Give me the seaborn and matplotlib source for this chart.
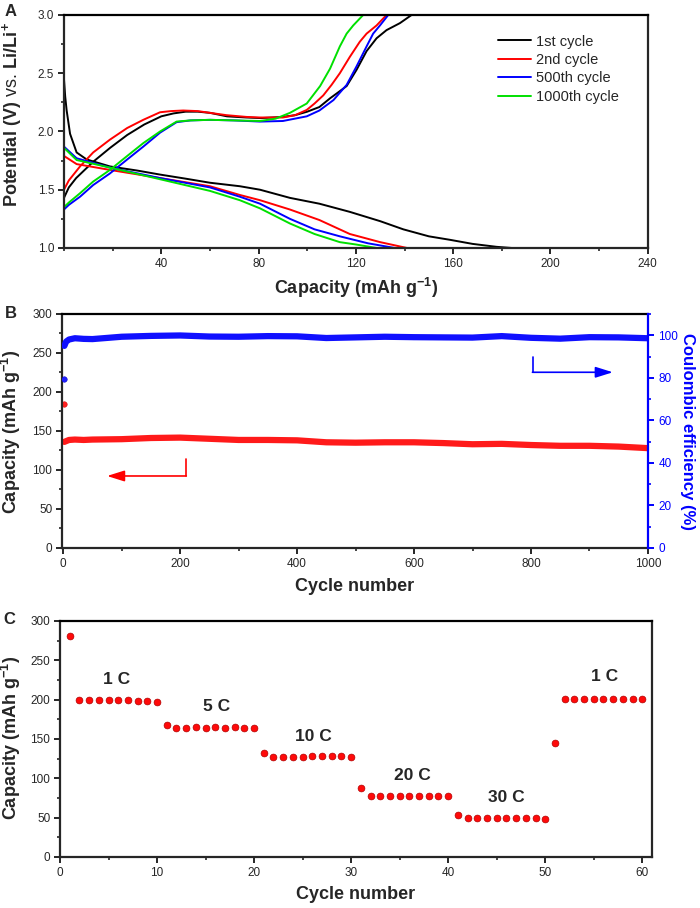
import matplotlib
matplotlib.use("Agg")
import matplotlib.pyplot as plt
import seaborn as sns
from matplotlib.ticker import MultipleLocator

# ---------------- Panel A: charge/discharge profiles ----------------
# charge curves (capacity mAh/g, potential V)
chg1_cap = [0, 2, 5, 12, 19, 26, 33, 40, 45, 50, 55, 60, 67, 75, 81, 90, 95, 100, 105, 109.4, 113, 116.2, 120.3, 124.4, 128.5, 132.6, 138.1, 142.9]
chg1_v = [1.43, 1.52, 1.60, 1.74, 1.86, 1.97, 2.06, 2.13, 2.155, 2.17, 2.17, 2.16, 2.13, 2.12, 2.115, 2.125, 2.14, 2.17, 2.21, 2.285, 2.34, 2.39, 2.53, 2.69, 2.80, 2.87, 2.93, 3.0]
chg2_cap = [0, 2, 6.6, 12, 18.9, 26, 32.6, 39.5, 44, 49, 55, 60, 66.8, 75, 80.6, 90, 95, 99.8, 103, 106.6, 110, 113.4, 117.5, 121.6, 124.4, 128.5, 132.6]
chg2_v = [1.50, 1.58, 1.70, 1.82, 1.93, 2.03, 2.10, 2.165, 2.175, 2.18, 2.175, 2.16, 2.14, 2.125, 2.12, 2.12, 2.14, 2.185, 2.24, 2.31, 2.40, 2.50, 2.64, 2.77, 2.84, 2.91, 3.0]
chg500_cap = [0, 2, 6.6, 12, 18.9, 26, 32.6, 39.5, 46.3, 52, 60, 70, 80.6, 90, 99.8, 105, 110.8, 116.2, 120.3, 124.4, 127.1, 129.9, 133.3]
chg500_v = [1.33, 1.37, 1.44, 1.54, 1.64, 1.76, 1.87, 1.99, 2.08, 2.095, 2.10, 2.095, 2.085, 2.09, 2.13, 2.18, 2.27, 2.40, 2.56, 2.73, 2.84, 2.91, 3.0]
chg1000_cap = [0, 2, 6.6, 12, 18.9, 26, 32.6, 39.5, 46.3, 52, 60, 70, 80.6, 87, 92.9, 99.8, 105.3, 109.4, 113.4, 116.2, 118.9, 123]
chg1000_v = [1.35, 1.39, 1.47, 1.57, 1.67, 1.79, 1.90, 2.00, 2.085, 2.095, 2.10, 2.095, 2.09, 2.11, 2.16, 2.24, 2.39, 2.54, 2.73, 2.84, 2.91, 3.0]

# discharge curves
dis1_cap = [0, 0.5, 1.1, 2.5, 5.2, 9.3, 18.9, 30, 39.5, 50, 60, 72.3, 80.6, 92.9, 105, 117.5, 130, 139.5, 150, 158.7, 168, 177.8, 184]
dis1_v = [2.45, 2.30, 2.18, 1.98, 1.82, 1.76, 1.70, 1.665, 1.63, 1.595, 1.56, 1.53, 1.50, 1.43, 1.38, 1.31, 1.23, 1.16, 1.10, 1.07, 1.035, 1.01, 1.0]
dis2_cap = [0, 5.2, 18.9, 39.5, 60, 72.3, 80.6, 92.9, 105, 117.5, 130, 141]
dis2_v = [1.79, 1.72, 1.67, 1.60, 1.53, 1.455, 1.41, 1.33, 1.24, 1.12, 1.05, 1.0]
dis500_cap = [0, 5.2, 18.9, 39.5, 60, 72.3, 80.6, 92.9, 103, 113.4, 125, 136]
dis500_v = [1.87, 1.77, 1.69, 1.60, 1.52, 1.44, 1.38, 1.25, 1.16, 1.10, 1.04, 1.0]
dis1000_cap = [0, 5.2, 18.9, 39.5, 60, 72.3, 80.6, 92.9, 103, 113.4, 120, 128.5]
dis1000_v = [1.86, 1.755, 1.69, 1.59, 1.49, 1.41, 1.34, 1.21, 1.12, 1.05, 1.03, 1.0]

cycle_labels = ["1st cycle", "2nd cycle", "500th cycle", "1000th cycle"]
cycle_colors = ["black", "#ff0000", "#0000ff", "#00e000"]

# ---------------- Panel B: long cycling ----------------
b_cycles = [2, 5, 10, 20, 35, 50, 100, 150, 200, 250, 300, 350, 400, 450, 500,
            550, 600, 650, 700, 750, 800, 850, 900, 950, 1000]
b_capacity = [136, 137, 138.5, 139, 138.5, 139, 139.5, 141, 141.5, 140, 138.5, 138.5, 138, 135.5, 135,
              135.5, 135.5, 134.5, 133, 133.5, 132, 131, 131, 130, 128]
b_ce = [95, 97, 98, 98.6, 98.3, 98.2, 99.3, 99.7, 99.9, 99.4, 99.3, 99.6, 99.5, 98.7, 99.0,
        99.3, 99.1, 99.0, 98.9, 99.6, 98.8, 98.4, 99.1, 99.0, 98.6]
b_first_cycle = [1]
b_first_capacity = [184]
b_first_ce = [79.5]

# ---------------- Panel C: rate capability ----------------
c_cycles = list(range(1, 61))
c_capacity = [281, 199, 199, 200, 199, 200, 199, 198, 198, 197,
              168, 164, 164, 165, 164, 165, 164, 165, 164, 164,
              132.5, 127, 127, 127, 127.5, 128, 128, 128, 128, 127,
              88, 77, 77, 77, 77, 77, 77, 77, 77, 77,
              53, 49, 49, 49, 49, 49, 49, 49, 49, 48.5,
              145, 201, 201, 201, 201, 201, 201, 201, 201, 201]
rate_labels = ["1 C", "5 C", "10 C", "20 C", "30 C", "1 C"]
rate_label_x = [5.8, 16.1, 26.1, 36.3, 46.0, 56.1]
rate_label_y = [225, 191, 153, 104, 75, 229]

# ---------------- style ----------------
sns.set_theme(style="ticks")
plt.rcParams["font.family"] = ["Liberation Sans", "DejaVu Sans"]
plt.rcParams["mathtext.fontset"] = "custom"
plt.rcParams["mathtext.rm"] = "Liberation Sans"
plt.rcParams["mathtext.bf"] = "Liberation Sans:bold"
plt.rcParams["axes.linewidth"] = 1.6
plt.rcParams["xtick.major.width"] = 1.4
plt.rcParams["ytick.major.width"] = 1.4
plt.rcParams["xtick.minor.width"] = 1.2
plt.rcParams["ytick.minor.width"] = 1.2
plt.rcParams["xtick.major.size"] = 4
plt.rcParams["ytick.major.size"] = 4
plt.rcParams["xtick.minor.size"] = 2.5
plt.rcParams["ytick.minor.size"] = 2.5

lab_fs = 13
tick_fs = 8.5

fig = plt.figure(figsize=(7, 9.08), dpi=100)
axA = fig.add_axes([0.0914, 0.7269, 0.834, 0.2566])
axB = fig.add_axes([0.0886, 0.3965, 0.837, 0.2577])
axC = fig.add_axes([0.0857, 0.0562, 0.8457, 0.2599])

# ---- A
charges = [(chg1_cap, chg1_v), (chg2_cap, chg2_v), (chg500_cap, chg500_v), (chg1000_cap, chg1000_v)]
discharges = [(dis1_cap, dis1_v), (dis2_cap, dis2_v), (dis500_cap, dis500_v), (dis1000_cap, dis1000_v)]
for (cx, cy), (dx, dy), lab, col in zip(charges, discharges, cycle_labels, cycle_colors):
    sns.lineplot(x=cx, y=cy, sort=False, color=col, lw=1.4, label=lab, ax=axA)
    sns.lineplot(x=dx, y=dy, sort=False, color=col, lw=1.4, ax=axA)
axA.set_xlim(0, 240)
axA.set_ylim(1.0, 3.0)
axA.set_xticks([40, 80, 120, 160, 200, 240])
axA.xaxis.set_minor_locator(MultipleLocator(20))
axA.yaxis.set_major_locator(MultipleLocator(0.5))
axA.yaxis.set_minor_locator(MultipleLocator(0.25))
axA.yaxis.set_major_formatter(matplotlib.ticker.FormatStrFormatter("%.1f"))
axA.set_xlabel(r"Capacity (mAh g$^{\mathbf{-1}}$)", fontsize=lab_fs, fontweight="bold")
axA.set_ylabel(r"$\mathbf{Potential\ (V)}$ vs. $\mathbf{Li/Li^{+}}$", fontsize=lab_fs)
axA.xaxis.set_label_coords(0.5, -0.122)
axA.yaxis.set_label_coords(-0.0685, 0.571)
axA.legend(loc="upper left", bbox_to_anchor=(0.743, 0.916), frameon=False, fontsize=10.5,
           handlelength=2.3, handletextpad=0.35, labelspacing=0.3, borderpad=0, borderaxespad=0)

# ---- B
sns.lineplot(x=b_cycles, y=b_capacity, color="#ff1a1a", lw=4.5, ax=axB)
sns.scatterplot(x=b_first_cycle, y=b_first_capacity, color="#ff2020", edgecolor="#d00000", s=16, ax=axB)
axB.set_xlim(-2, 1000)
axB.set_ylim(0, 300)
axB.xaxis.set_major_locator(MultipleLocator(200))
axB.xaxis.set_minor_locator(MultipleLocator(100))
axB.yaxis.set_major_locator(MultipleLocator(50))
axB.yaxis.set_minor_locator(MultipleLocator(25))
axB.set_xlabel("Cycle number", fontsize=lab_fs, fontweight="bold")
axB.set_ylabel(r"Capacity (mAh g$^{\mathbf{-1}}$)", fontsize=lab_fs, fontweight="bold")
axB.xaxis.set_label_coords(0.5, -0.13)
axB.yaxis.set_label_coords(-0.0666, 0.497)
axB.plot([210, 210], [113.7, 92.3], color="#ff0000", lw=1.2)
axB.annotate("", xy=(75, 92.3), xytext=(210.5, 92.3),
             arrowprops=dict(arrowstyle="-|>,head_length=0.7,head_width=0.22", color="#ff0000",
                             lw=1.2, mutation_scale=15, shrinkA=0, shrinkB=0))

axB2 = axB.twinx()
sns.lineplot(x=b_cycles, y=b_ce, color="#1010ff", lw=4.5, ax=axB2)
sns.scatterplot(x=b_first_cycle, y=b_first_ce, color="#2020ff", edgecolor="#0000c0", s=16, ax=axB2)
axB2.set_ylim(0, 110)
axB2.yaxis.set_major_locator(MultipleLocator(20))
axB2.yaxis.set_minor_locator(MultipleLocator(10))
axB2.spines["right"].set_color("#0000ff")
axB2.tick_params(axis="y", which="both", colors="#0000ff", labelsize=tick_fs)
axB2.set_ylabel("Coulombic efficiency (%)", fontsize=12, fontweight="bold",
                color="#0000ff", rotation=270, va="bottom")
axB2.yaxis.set_label_coords(1.0546, 0.497)
axB2.plot([803, 803], [89.9, 82.6], color="#0000ff", lw=1.2)
axB2.annotate("", xy=(940, 82.6), xytext=(802.5, 82.6),
              arrowprops=dict(arrowstyle="-|>,head_length=0.7,head_width=0.22", color="#0000ff",
                              lw=1.2, mutation_scale=15, shrinkA=0, shrinkB=0))

# ---- C
sns.scatterplot(x=c_cycles, y=c_capacity, color="#ff0a0a", edgecolor="#b00000", linewidth=0.5, s=24, ax=axC)
for t, tx, ty in zip(rate_labels, rate_label_x, rate_label_y):
    axC.text(tx, ty, t, ha="center", va="center", fontsize=12.5, fontweight="bold")
axC.set_xlim(0, 61)
axC.set_ylim(0, 300)
axC.xaxis.set_major_locator(MultipleLocator(10))
axC.xaxis.set_minor_locator(MultipleLocator(5))
axC.yaxis.set_major_locator(MultipleLocator(50))
axC.yaxis.set_minor_locator(MultipleLocator(25))
axC.set_xlabel("Cycle number", fontsize=lab_fs, fontweight="bold")
axC.set_ylabel(r"Capacity (mAh g$^{\mathbf{-1}}$)", fontsize=lab_fs, fontweight="bold")
axC.xaxis.set_label_coords(0.5, -0.125)
axC.yaxis.set_label_coords(-0.0625, 0.504)

for ax in (axA, axB, axC):
    ax.tick_params(axis="both", which="both", direction="out", labelsize=tick_fs, pad=3)
    for s in ("top", "right"):
        ax.spines[s].set_visible(True)
    ax.spines["top"].set_color("black")
axB.spines["right"].set_visible(False)
for s in ("top", "left", "bottom"):
    axB2.spines[s].set_visible(False)
axB2.spines["right"].set_visible(True)
axB2.spines["right"].set_linewidth(1.6)

fig.text(5 / 700, 1 - 4 / 908, "A", fontsize=12, fontweight="bold", ha="left", va="top")
fig.text(5 / 700, 1 - 306 / 908, "B", fontsize=12, fontweight="bold", ha="left", va="top")
fig.text(3 / 700, 1 - 612 / 908, "C", fontsize=12, fontweight="bold", ha="left", va="top")

fig.savefig("out.png", dpi=100)
